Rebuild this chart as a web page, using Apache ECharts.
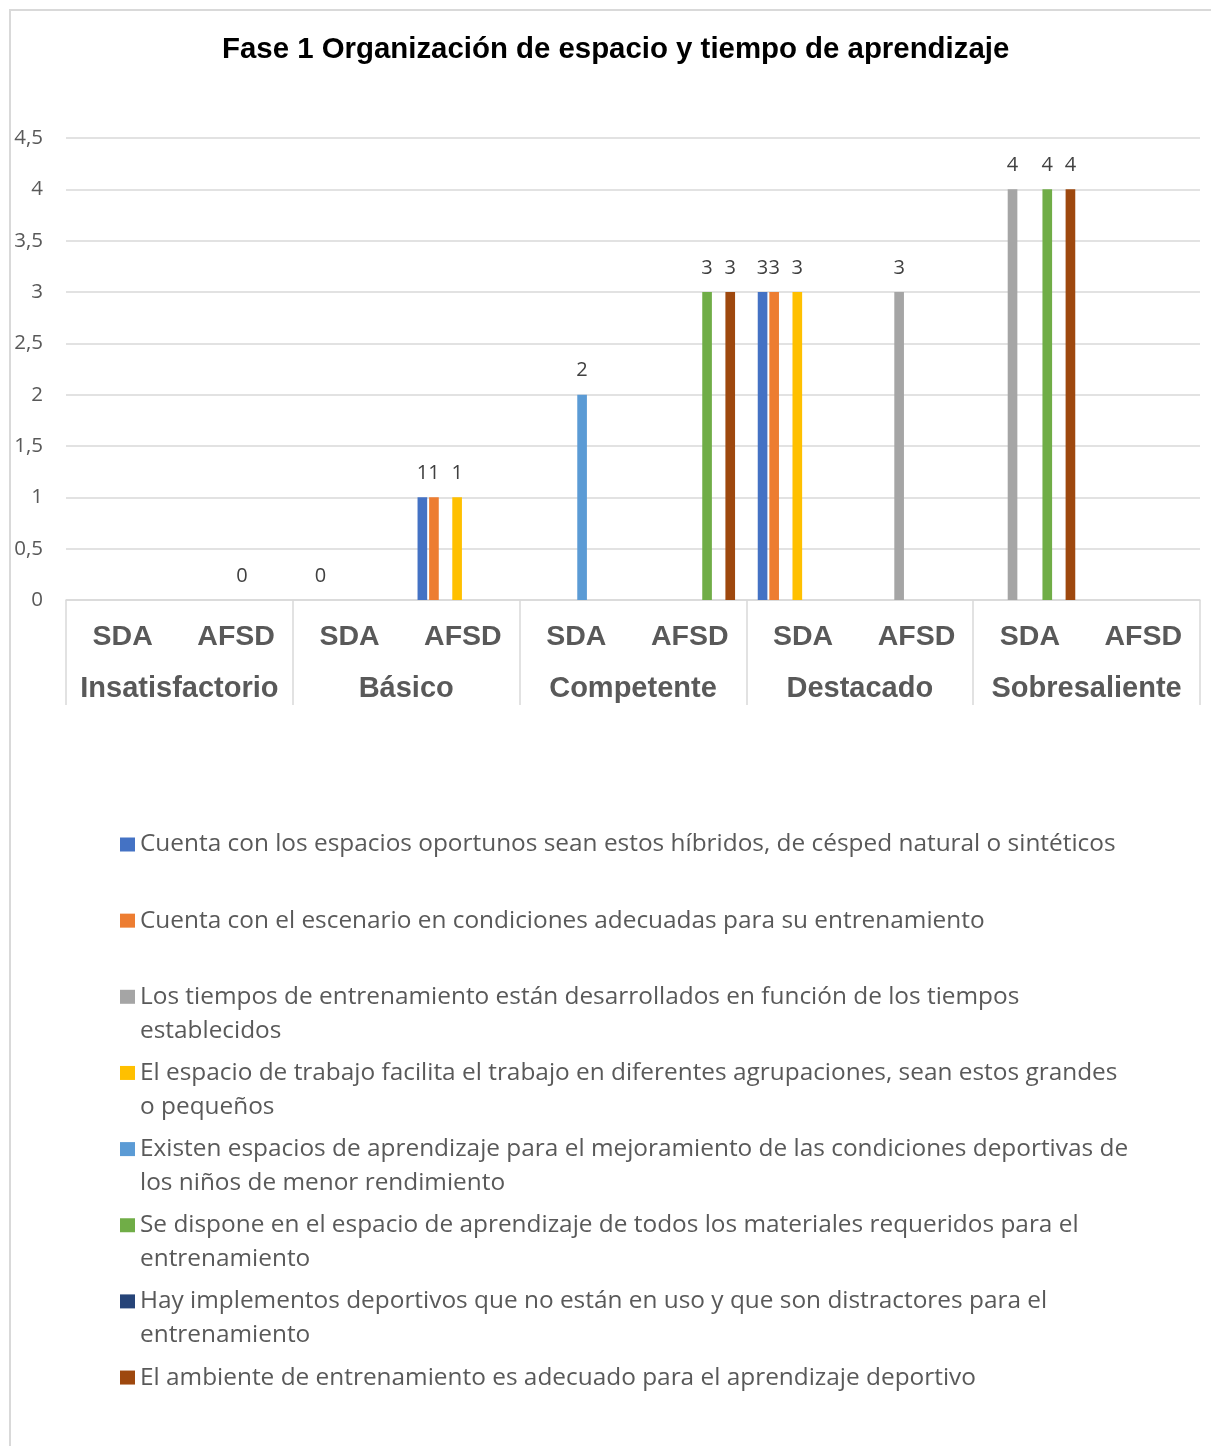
<!DOCTYPE html>
<html>
<head>
<meta charset="utf-8">
<script src="https://cdn.jsdelivr.net/npm/echarts@6/dist/echarts.min.js"></script>
<style>
  html, body { margin: 0; padding: 0; background: #ffffff; }
  #chart { width: 1211px; height: 1446px; }
</style>
</head>
<body>
<div id="chart"></div>
<script>
// Sub-categories (one per bar cluster) and the performance levels that group them
const subCategories = ['SDA', 'AFSD', 'SDA', 'AFSD', 'SDA', 'AFSD', 'SDA', 'AFSD', 'SDA', 'AFSD'];
const levels = ['Insatisfactorio', 'Básico', 'Competente', 'Destacado', 'Sobresaliente'];

// Indicator names (line breaks as they wrap in the legend)
const seriesNames = [
  'Cuenta con los espacios oportunos sean estos híbridos, de césped natural o sintéticos',
  'Cuenta con el escenario en condiciones adecuadas para su entrenamiento',
  'Los tiempos de entrenamiento están desarrollados en función de los tiempos\nestablecidos',
  'El espacio de trabajo facilita el trabajo en diferentes agrupaciones, sean estos grandes\no pequeños',
  'Existen espacios de aprendizaje para el mejoramiento de las condiciones deportivas de\nlos niños de menor rendimiento',
  'Se dispone en el espacio de aprendizaje de todos los materiales requeridos para el\nentrenamiento',
  'Hay implementos deportivos que no están en uso y que son distractores para el\nentrenamiento',
  'El ambiente de entrenamiento es adecuado para el aprendizaje deportivo'
];

// Counts per indicator, in the order of subCategories (null = no bar)
const espaciosOportunos    = [null, null, null, 1, null, null, 3, null, null, null];
const escenarioAdecuado    = [null, null, 0, 1, null, null, 3, null, null, null];
const tiemposEntrenamiento = [null, null, null, null, null, null, null, 3, 4, null];
const espacioAgrupaciones  = [null, null, null, 1, null, null, 3, null, null, null];
const espaciosMejoramiento = [null, 0, null, null, 2, null, null, null, null, null];
const materialesRequeridos = [null, null, null, null, null, 3, null, null, 4, null];
const implementosSinUso    = [null, null, null, null, null, null, null, null, null, null];
const ambienteAdecuado     = [null, null, null, null, null, 3, null, null, 4, null];

const seriesValues = [
  espaciosOportunos, escenarioAdecuado, tiemposEntrenamiento, espacioAgrupaciones,
  espaciosMejoramiento, materialesRequeridos, implementosSinUso, ambienteAdecuado
];
const seriesColors = ['#4472C4', '#ED7D31', '#A5A5A5', '#FFC000', '#5B9BD5', '#70AD47', '#264478', '#9E480E'];

const yTicks = { min: 0, max: 4.5, interval: 0.5 };

const chart = echarts.init(document.getElementById('chart'), null, { renderer: 'canvas' });

const textFont = '"Open Sans", "Noto Sans", sans-serif';
const boldFont = '"Liberation Sans", Arial, sans-serif';

// One legend block per indicator, stacked with an even pitch.
// Multi-line entries get a blank leading line so the swatch lines up with their first line.
const legendLineHeight = 34;
const legendFirstCenter = 844.5;
const legendPitch = 76.15;
const legends = seriesNames.map((name, i) => {
  const lines = name.split('\n').length;
  const lead = lines - 1;
  const boxH = (lead + lines) * legendLineHeight;
  return {
    data: [name],
    orient: 'vertical',
    left: 120,
    top: legendFirstCenter + i * legendPitch - boxH / 2,
    padding: 0,
    itemWidth: 15,
    itemHeight: 14,
    icon: 'rect',
    selectedMode: false,
    formatter: n => '\n'.repeat(lead) + n,
    textStyle: {
      fontFamily: textFont,
      fontSize: 24.4,
      color: '#595959',
      lineHeight: legendLineHeight
    }
  };
});

const option = {
  backgroundColor: '#ffffff',
  animation: false,
  title: {
    text: 'Fase 1 Organización de espacio y tiempo de aprendizaje',
    left: 222,
    top: 35,
    padding: 0,
    textStyle: { fontFamily: boldFont, fontWeight: 'bold', fontSize: 29.4, color: '#000000' }
  },
  legend: legends,
  grid: { left: 66, right: 11, top: 138, bottom: 846, containLabel: false },
  xAxis: [
    {
      type: 'category',
      data: subCategories,
      position: 'bottom',
      axisLine: { show: true, lineStyle: { color: '#d9d9d9', width: 1.5 } },
      axisTick: { show: false },
      axisLabel: {
        interval: 0, margin: 23,
        fontFamily: boldFont, fontWeight: 'bold', fontSize: 28.5, color: '#595959'
      }
    },
    {
      type: 'category',
      data: levels,
      position: 'bottom',
      offset: 0,
      axisLine: { show: false },
      axisTick: { show: true, length: 105, alignWithLabel: false, lineStyle: { color: '#d9d9d9', width: 1.5 } },
      axisLabel: {
        interval: 0, margin: 74,
        fontFamily: boldFont, fontWeight: 'bold', fontSize: 29, color: '#595959'
      }
    }
  ],
  yAxis: {
    type: 'value',
    min: yTicks.min, max: yTicks.max, interval: yTicks.interval,
    axisLine: { show: false },
    axisTick: { show: false },
    splitLine: { lineStyle: { color: '#d9d9d9', width: 1.5 } },
    axisLabel: {
      margin: 23,
      fontFamily: textFont, fontSize: 20.5, color: '#595959',
      formatter: v => String(v).replace('.', ',')
    }
  },
  graphic: [{
    type: 'rect',
    z: -10,
    shape: { x: 10, y: 10, width: 1400, height: 1600 },
    style: { fill: 'none', stroke: '#d9d9d9', lineWidth: 2 }
  }],
  series: seriesValues.map((vals, i) => ({
    type: 'bar',
    name: seriesNames[i],
    xAxisIndex: 0,
    data: vals,
    barGap: '20%',
    barCategoryGap: '20%',
    itemStyle: { color: seriesColors[i] },
    label: {
      show: true,
      position: 'top',
      distance: 14,
      fontFamily: textFont,
      fontSize: 20,
      color: '#404040'
    }
  }))
};

chart.setOption(option);
</script>
</body>
</html>
